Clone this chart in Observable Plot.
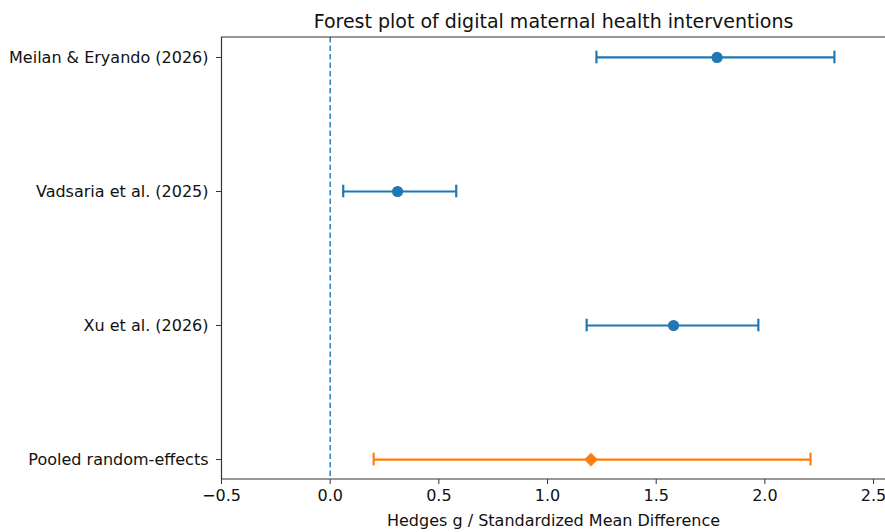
<!DOCTYPE html>
<html>
<head>
<meta charset="utf-8">
<script src="https://cdn.jsdelivr.net/npm/d3@7"></script>
<script src="https://cdn.jsdelivr.net/npm/@observablehq/plot@0.6"></script>
<style>
  html, body { margin: 0; padding: 0; background: #fff; }
  #chart svg { font-family: "DejaVu Sans", sans-serif; }
</style>
</head>
<body>
<div id="chart"></div>
<script>
const studies = ["Meilan & Eryando (2026)", "Vadsaria et al. (2025)", "Xu et al. (2026)", "Pooled random-effects"];
const estimate = [1.78, 0.31, 1.58, 1.20];
const lower = [1.225, 0.06, 1.18, 0.20];
const upper = [2.32, 0.58, 1.97, 2.21];
const kind = ["study", "study", "study", "pooled"];
const xTicks = [-0.5, 0.0, 0.5, 1.0, 1.5, 2.0, 2.5];

const rows = studies.map((s, i) => ({i, name: s, est: estimate[i], lo: lower[i], hi: upper[i], kind: kind[i]}));
const colorOf = k => k === "pooled" ? "#ff7f0e" : "#1f77b4";
const capHalf = 0.047;

const topSpine = (index, scales, values, dims) => {
  const l = d3.create("svg:line")
    .attr("x1", dims.marginLeft).attr("x2", dims.width)
    .attr("y1", dims.marginTop).attr("y2", dims.marginTop)
    .attr("stroke", "#333").attr("stroke-width", 1.2);
  return l.node();
};
const bottomSpine = (index, scales, values, dims) => {
  const l = d3.create("svg:line")
    .attr("x1", dims.marginLeft).attr("x2", dims.width)
    .attr("y1", dims.height - dims.marginBottom).attr("y2", dims.height - dims.marginBottom)
    .attr("stroke", "#333").attr("stroke-width", 1.2);
  return l.node();
};

const plot = Plot.plot({
  width: 885,
  height: 532,
  marginLeft: 221,
  marginRight: 0,
  marginTop: 37,
  marginBottom: 53,
  style: {fontFamily: "DejaVu Sans, sans-serif", fontSize: "16px", color: "#111", background: "#fff"},
  x: {domain: [-0.5, 2.555]},
  y: {domain: [3.149, -0.149]},
  marks: [
    Plot.ruleX([0], {stroke: "#1f77b4", strokeWidth: 1.4, strokeDasharray: "5.5,3"}),
    Plot.ruleY(rows, {y: "i", x1: "lo", x2: "hi", stroke: d => colorOf(d.kind), strokeWidth: 2.2}),
    Plot.ruleX(rows, {x: "lo", y1: d => d.i - capHalf, y2: d => d.i + capHalf, stroke: d => colorOf(d.kind), strokeWidth: 2.2}),
    Plot.ruleX(rows, {x: "hi", y1: d => d.i - capHalf, y2: d => d.i + capHalf, stroke: d => colorOf(d.kind), strokeWidth: 2.2}),
    Plot.dot(rows.filter(d => d.kind === "study"), {x: "est", y: "i", r: 5.6, fill: "#1f77b4", stroke: "none"}),
    Plot.dot(rows.filter(d => d.kind === "pooled"), {x: "est", y: "i", r: 6.2, symbol: "diamond2", fill: "#ff7f0e", stroke: "none"}),
    Plot.ruleX([-0.5], {stroke: "#333", strokeWidth: 1.2}),
    topSpine,
    bottomSpine,
    Plot.axisX({ticks: xTicks, tickFormat: d3.format(".1f"), tickSize: 5, tickPadding: 5, fontSize: 16, stroke: "#333", label: "Hedges g / Standardized Mean Difference", labelAnchor: "center", labelOffset: 46, labelArrow: "none"}),
    Plot.axisY({ticks: [0, 1, 2, 3], tickFormat: i => studies[i], tickSize: 5, tickPadding: 8, fontSize: 16, stroke: "#333", label: null}),
    Plot.text(["Forest plot of digital maternal health interventions"], {frameAnchor: "top", lineAnchor: "middle", dy: -16, fontSize: 19, fill: "#111"})
  ]
});
document.getElementById("chart").appendChild(plot);
</script>
</body>
</html>
